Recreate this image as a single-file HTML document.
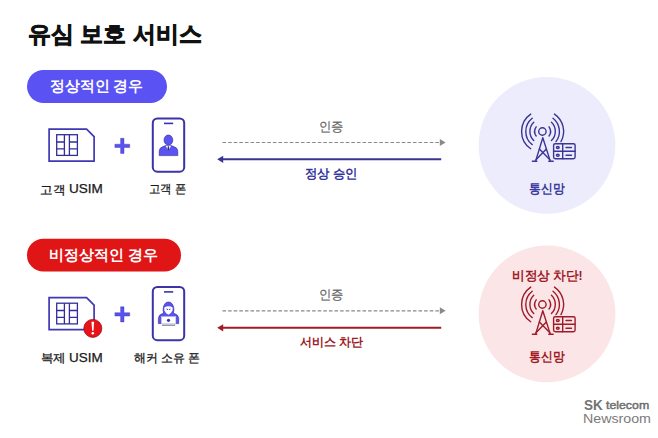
<!DOCTYPE html>
<html lang="ko">
<head>
<meta charset="utf-8">
<title>유심 보호 서비스</title>
<style>
html,body{margin:0;padding:0;background:#fff;}
body{width:658px;height:438px;position:relative;overflow:hidden;font-family:"Liberation Sans",sans-serif;}
.t{position:absolute;white-space:nowrap;line-height:1;transform-origin:0 0;}
svg{position:absolute;left:0;top:0;}
</style>
</head>
<body>
<svg width="658" height="438" viewBox="0 0 658 438">
  <defs>
    <g id="sim">
      <path d="M49.1 129.2 H86.6 L94.1 136.7 V161.2 H49.1 Z" fill="none" stroke="#4039b4" stroke-width="1.7"/>
      <g fill="none" stroke="#332d9c" stroke-width="1.3">
        <rect x="56.7" y="134.7" width="20.7" height="20.7"/>
        <path d="M64.4 134.7 V155.4 M69.4 134.7 V155.4 M56.7 142 H64.4 M56.7 148.9 H64.4 M69.4 142 H77.4 M69.4 148.9 H77.4"/>
      </g>
    </g>
    <g id="plus">
      <path d="M120.6 138.3 H124 V144.2 H129.7 V147.5 H124 V153.4 H120.6 V147.5 H114.9 V144.2 H120.6 Z" fill="#5a52f0" stroke="#3a34a6" stroke-width="0.4"/>
    </g>
    <g id="phone">
      <rect x="152.8" y="118.5" width="31.4" height="53.2" rx="4.5" fill="none" stroke="#3a34a6" stroke-width="2"/>
      <line x1="164" y1="123.4" x2="173.2" y2="123.4" stroke="#3a34a6" stroke-width="1.6"/>
    </g>
    <g id="tower">
      <g fill="none" stroke-width="1.4" stroke-linecap="round">
        <circle cx="542.4" cy="131.5" r="3.7"/>
        <path d="M536.18 126.80 A7.9 7.9 0 0 0 536.18 136.00 M549.02 126.80 A7.9 7.9 0 0 1 549.02 136.00 M533.75 122.30 A12.7 12.7 0 0 0 533.75 140.50 M551.45 122.30 A12.7 12.7 0 0 1 551.45 140.50 M532.21 118.20 A16.8 16.8 0 0 0 532.21 144.60 M552.99 118.20 A16.8 16.8 0 0 1 555.95 141.60 M530.71 114.09 A21.0 21.0 0 0 0 530.71 148.71 M554.49 114.09 A21.0 21.0 0 0 1 560.96 141.60"/>
        <path d="M542.8 137.8 L535.7 160.9 M542.8 137.8 L550.2 160.9 M532.4 161.2 H536.8 M548.8 161.2 H553.2"/>
        <path d="M539.4 148.9 L549.85 159.8 M546.35 148.9 L536 159.8"/>
        <rect x="553.6" y="143.7" width="21.5" height="15" rx="1.6"/>
        <path d="M553.6 151.3 H575.1 M562.7 143.7 V158.7"/>
        <ellipse cx="557.8" cy="147.5" rx="1.4" ry="1.0"/>
        <ellipse cx="557.8" cy="155.2" rx="1.4" ry="1.0"/>
        <path d="M566 147.5 H571.5 M566 155.2 H571.5"/>
      </g>
    </g>
  </defs>

  <!-- pills -->
  <rect x="27" y="70" width="140" height="33" rx="16.5" fill="#5a52f3"/>
  <rect x="27" y="238.8" width="154" height="32.8" rx="16.4" fill="#e01515"/>

  <!-- section 1 icons -->
  <use href="#sim"/>
  <use href="#plus"/>
  <use href="#phone"/>
  <!-- person -->
  <g fill="#5a52f3" stroke="#2f2a8c" stroke-width="0.6">
    <path d="M159.2 155.6 V151.2 Q159.4 147.6 163 146.6 L165.6 145.5 L171.2 145.5 L173.8 146.6 Q177.6 147.6 177.8 151.2 V155.6 Z"/>
    <ellipse cx="168.4" cy="140.1" rx="4.4" ry="5.1"/>
  </g>
  <path d="M165.7 145.7 L171.1 145.7 L168.4 151 Z" fill="#fff"/>
  <path d="M167.8 146.3 H169 L169.4 149.8 L168.4 151 L167.4 149.8 Z" fill="#2f2a8c"/>
  <!-- section 2 icons -->
  <use href="#sim" y="168.5"/>
  <use href="#plus" y="168.5"/>
  <use href="#phone" y="168.5"/>
  <!-- exclamation badge -->
  <circle cx="92.8" cy="328.4" r="9" fill="#e8121a" stroke="#9a0d12" stroke-width="0.8"/>
  <path d="M91.5 321.8 H94.1 L93.5 330.8 H92.1 Z" fill="#fff"/>
  <circle cx="92.8" cy="333.2" r="1.3" fill="#fff"/>
  <!-- hacker -->
  <path d="M158.4 323.6 V318.4 Q158.6 314.8 162.4 313.6 L163.6 313 Q162.6 310 163.4 307 Q164.8 302 168.5 302 Q172.2 302 173.6 307 Q174.4 310 173.4 313 L174.6 313.6 Q178.4 314.8 178.7 318.4 V323.6 Z" fill="#5a52f3" stroke="#2f2a8c" stroke-width="0.6"/>
  <path d="M164.3 307.6 Q168.5 305 172.7 307.6 L172.5 310.4 Q171.2 313.4 168.4 314.8 Q165.6 313.4 164.4 310.4 Z" fill="#fff"/>
  <path d="M166.5 309 L168 309.6 M170.4 309 L168.9 309.6" stroke="#2f2a8c" stroke-width="0.9"/>
  <rect x="161.4" y="316.6" width="14.4" height="7.2" fill="#fff" stroke="#c8c6ee" stroke-width="0.5"/>
  <path d="M162 325.2 H175.2" stroke="#55557a" stroke-width="0.9"/>
  <circle cx="168.5" cy="320.3" r="1.6" fill="#3a34a6"/>
  <!-- arrows section 1 -->
  <line x1="222.5" y1="142.5" x2="440" y2="142.5" stroke="#8a8a8a" stroke-width="1.2" stroke-dasharray="3.6 2"/>
  <path d="M439.8 139 L445.6 142.5 L439.8 146 Z" fill="#8a8a8a"/>
  <line x1="222" y1="159.3" x2="441.2" y2="159.3" stroke="#38348f" stroke-width="1.9"/>
  <path d="M217.2 159.3 L223.2 155.7 L223.2 162.9 Z" fill="#38348f"/>

  <!-- arrows section 2 -->
  <line x1="222.5" y1="310.8" x2="440" y2="310.8" stroke="#8a8a8a" stroke-width="1.2" stroke-dasharray="3.6 2"/>
  <path d="M439.8 307.3 L445.6 310.8 L439.8 314.3 Z" fill="#8a8a8a"/>
  <line x1="222" y1="327.8" x2="441.2" y2="327.8" stroke="#a01a28" stroke-width="1.9"/>
  <path d="M217.2 327.8 L223.2 324.2 L223.2 331.4 Z" fill="#a01a28"/>

  <!-- circles -->
  <circle cx="547" cy="145.3" r="68.4" fill="#edecfc"/>
  <circle cx="547" cy="313.9" r="68.4" fill="#fbe5e6"/>
  <use href="#tower" stroke="#3a3596"/>
  <use href="#tower" y="173" stroke="#9e1c2a"/>
</svg>

<div class="t" id="title" style="left:28.00px;top:23.05px;font-size:23.00px;transform:scaleX(1.0000);font-weight:bold;color:#111;-webkit-text-stroke:0.7px #111;">유심 보호 서비스</div>
<div class="t" id="p1" style="left:50.00px;top:79.45px;font-size:14.50px;transform:scaleX(0.9912);font-weight:bold;color:#fff;">정상적인 경우</div>
<div class="t" id="p2" style="left:49.00px;top:248.15px;font-size:14.50px;transform:scaleX(1.0000);font-weight:bold;color:#fff;">비정상적인 경우</div>
<div class="t" id="l1k" style="left:40.00px;top:183.60px;font-size:12.00px;transform:scaleX(1.0477);color:#1a1a1a;-webkit-text-stroke:0.3px #1a1a1a;">고객</div>
<div class="t" id="l1u" style="left:69.00px;top:182.98px;font-size:12.60px;transform:scaleX(1.0772);color:#1a1a1a;-webkit-text-stroke:0.25px #1a1a1a;">USIM</div>
<div class="t" id="l2" style="left:149.00px;top:183.10px;font-size:12.00px;transform:scaleX(0.9496);color:#1a1a1a;-webkit-text-stroke:0.3px #1a1a1a;">고객 폰</div>
<div class="t" id="l3k" style="left:41.00px;top:352.25px;font-size:12.00px;transform:scaleX(1.0380);color:#1a1a1a;-webkit-text-stroke:0.3px #1a1a1a;">복제</div>
<div class="t" id="l3u" style="left:69.00px;top:351.98px;font-size:12.60px;transform:scaleX(1.0683);color:#1a1a1a;-webkit-text-stroke:0.25px #1a1a1a;">USIM</div>
<div class="t" id="l4" style="left:134.00px;top:352.15px;font-size:12.00px;transform:scaleX(0.9920);color:#1a1a1a;-webkit-text-stroke:0.3px #1a1a1a;">해커 소유 폰</div>
<div class="t" id="a1" style="left:319.00px;top:120.15px;font-size:13.00px;transform:scaleX(0.9489);color:#666;-webkit-text-stroke:0.2px #666;">인증</div>
<div class="t" id="ok" style="left:305.00px;top:168.25px;font-size:12.50px;transform:scaleX(0.9534);font-weight:bold;color:#35359c;">정상 승인</div>
<div class="t" id="a2" style="left:319.00px;top:288.40px;font-size:13.00px;transform:scaleX(0.9489);color:#666;-webkit-text-stroke:0.2px #666;">인증</div>
<div class="t" id="blk" style="left:300.00px;top:336.10px;font-size:12.00px;transform:scaleX(1.0023);font-weight:bold;color:#a01a26;">서비스 차단</div>
<div class="t" id="n1" style="left:529.00px;top:181.75px;font-size:13.00px;transform:scaleX(0.9074);font-weight:bold;color:#3a3aa0;">통신망</div>
<div class="t" id="bt" style="left:512.00px;top:269.90px;font-size:12.50px;transform:scaleX(0.9724);font-weight:bold;color:#a01a26;">비정상 차단!</div>
<div class="t" id="n2" style="left:529.00px;top:350.20px;font-size:13.00px;transform:scaleX(0.9068);font-weight:bold;color:#a01a26;">통신망</div>
<div class="t" id="sk" style="left:584.00px;top:396.60px;font-size:15.00px;transform:scaleX(0.90);font-weight:bold;color:#737373;">SK</div>
<div class="t" id="tc" style="left:606.00px;top:400.45px;font-size:11.00px;transform:scaleX(1.12);color:#6e6e6e;-webkit-text-stroke:0.45px #6e6e6e;">telecom</div>
<div class="t" id="nr" style="left:583.00px;top:412.45px;font-size:13.50px;transform:scaleX(1.0534);color:#7a7a7a;">Newsroom</div>
</body>
</html>
